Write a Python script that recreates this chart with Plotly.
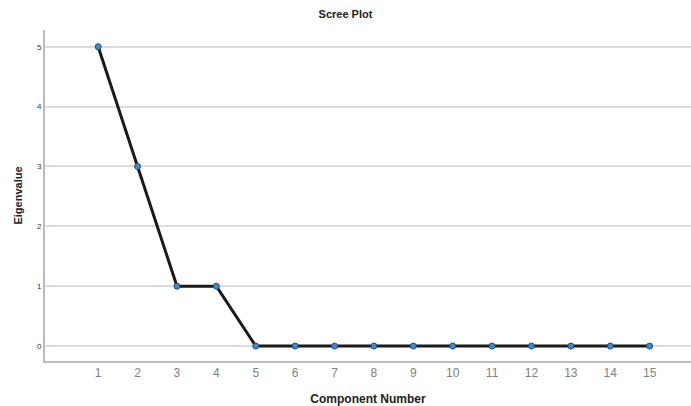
import plotly.graph_objects as go

components = list(range(1, 16))
eigenvalues = [5, 3, 1, 1, 0, 0, 0, 0, 0, 0, 0, 0, 0, 0, 0]
y_ticks = [0, 1, 2, 3, 4, 5]

fig = go.Figure()
fig.add_trace(go.Scatter(
    x=components, y=eigenvalues, mode="lines+markers",
    line=dict(color="#1a1a1a", width=3),
    marker=dict(size=6, color="#3b8bd0", line=dict(color="#1f4f7a", width=1)),
    cliponaxis=False,
))
fig.update_layout(
    width=691, height=406,
    margin=dict(l=45, r=0, t=30, b=45),
    paper_bgcolor="white", plot_bgcolor="white",
    showlegend=False,
    font=dict(family="Arial, Liberation Sans, sans-serif"),
    title=dict(text="<b>Scree Plot</b>", x=0.5, xanchor="center", y=0.965, yanchor="middle",
               font=dict(size=11, color="#222")),
    xaxis=dict(range=[-0.35, 16.05], tickvals=components, ticktext=[str(c) for c in components],
               tickfont=dict(size=12, color="#808080"), showgrid=False, zeroline=False,
               showline=True, linecolor="#bbbbbb", linewidth=2, ticks="", ticklen=0,
               automargin=False,
               title=dict(text="<b>Component Number</b>", font=dict(size=12, color="#222"), standoff=18)),
    yaxis=dict(range=[-0.25, 5.28], tickvals=y_ticks, ticktext=[str(v) for v in y_ticks],
               tickfont=dict(size=8, color="#333"), showgrid=True, gridcolor="#dddddd", gridwidth=2,
               zeroline=False, showline=True, linecolor="#bbbbbb", linewidth=2, ticks="",
               automargin=False,
               title=dict(text="<b>Eigenvalue</b>", font=dict(size=11, color="#222"), standoff=12)),
)
fig.write_html("out.html", config={"displayModeBar": False},
               post_script="document.body.style.margin='0';document.body.style.padding='0';")
